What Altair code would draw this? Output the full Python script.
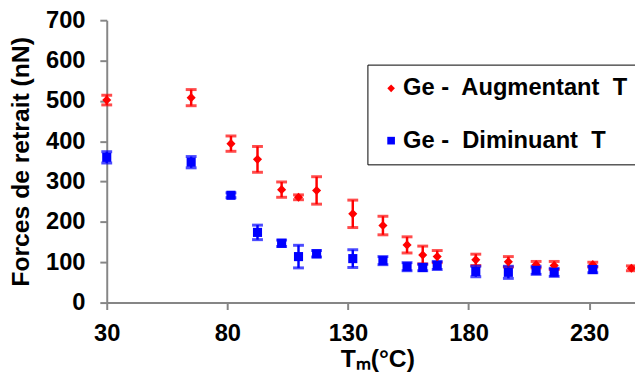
import altair as alt
import pandas as pd

series_names = ["Ge -\u00a0 Augmentant\u00a0 T", "Ge -\u00a0 Diminuant\u00a0 T"]
series_colors = ["#ff0000", "#0000ff"]
series_shapes = ["diamond", "square"]

x_aug = [30, 65, 81.5, 92.5, 102.5, 109.5, 117, 132, 144.5, 154.5, 161, 167, 183, 196.5, 208, 215.5, 231.5, 247.5]
y_aug = [502, 508, 394, 355, 280, 261, 278, 220, 191, 143, 118, 114, 106, 101, 94, 92, 94, 85]
e_aug = [12, 20, 19, 32, 19, 6, 34, 34, 23, 20, 22, 15, 14, 13, 8, 10, 6, 6]

x_dim = [30, 65, 81.5, 92.5, 102.5, 109.5, 117, 132, 144.5, 154.5, 161, 167, 183, 196.5, 208, 215.5, 231.5]
y_dim = [360, 348, 266, 174, 147, 114, 121, 109, 104, 89, 87, 92, 77, 75, 80, 75, 82]
e_dim = [14, 14, 6, 18, 8, 28, 8, 22, 10, 10, 8, 10, 13, 15, 10, 10, 8]

x_ticks = [30, 80, 130, 180, 230]
y_ticks = [0, 100, 200, 300, 400, 500, 600, 700]

rows = []
for xs_, ys_, es_, name in [(x_aug, y_aug, e_aug, series_names[0]), (x_dim, y_dim, e_dim, series_names[1])]:
    for x, y, e in zip(xs_, ys_, es_):
        rows.append({"T": x, "F": y, "lo": y - e, "hi": y + e, "serie": name})
df = pd.DataFrame(rows)

FONT = "Liberation Sans"
FS = 24

xs = alt.Scale(domain=[30, 249], nice=False, zero=False)
ys = alt.Scale(domain=[0, 700], nice=False)

legend = alt.Legend(title=None, orient="none", legendX=264, legendY=45,
                    strokeColor="black", fillColor="white", padding=12,
                    rowPadding=29, symbolSize=60, symbolStrokeWidth=0,
                    labelFont=FONT, labelFontSize=FS, labelFontWeight="bold",
                    labelColor="black", labelOffset=0, labelLimit=400)
color = alt.Color("serie:N", scale=alt.Scale(domain=series_names, range=series_colors), legend=legend)
shape = alt.Shape("serie:N", scale=alt.Scale(domain=series_names, range=series_shapes), legend=legend)

x_enc = alt.X("T:Q", scale=xs, title="Tₘ(°C)",
              axis=alt.Axis(values=x_ticks, grid=False, domainColor="#868686", domainWidth=2,
                            tickColor="#868686", tickWidth=2, tickSize=7, labelPadding=12,
                            labelFont=FONT, labelFontSize=FS, labelFontWeight="bold", labelColor="black",
                            titleFont=FONT, titleFontSize=FS + 1, titleFontWeight="bold", titleColor="black",
                            titlePadding=2, titleX=274, titleAlign="center", labelFlush=False))
y_enc = alt.Y("F:Q", scale=ys, title="Forces de retrait (nN)",
              axis=alt.Axis(values=y_ticks, grid=False, domainColor="#868686", domainWidth=2,
                            tickColor="#868686", tickWidth=2, tickSize=7, labelPadding=15,
                            labelFont=FONT, labelFontSize=FS, labelFontWeight="bold", labelColor="black",
                            titleFont=FONT, titleFontSize=FS + 1, titleFontWeight="bold", titleColor="black",
                            titlePadding=12))

base = alt.Chart(df)
bar_color = alt.condition(alt.datum.serie == series_names[0],
                          alt.value(series_colors[0]), alt.value(series_colors[1]))

rules = base.mark_rule(strokeWidth=2.5).encode(
    x=x_enc, y=alt.Y("lo:Q", scale=ys), y2="hi:Q", color=bar_color)
cap_lo = base.mark_tick(orient="horizontal", size=11, thickness=3).encode(
    x="T:Q", y=alt.Y("lo:Q", scale=ys), color=bar_color)
cap_hi = base.mark_tick(orient="horizontal", size=11, thickness=3).encode(
    x="T:Q", y=alt.Y("hi:Q", scale=ys), color=bar_color)
pts = base.mark_point(filled=True, size=85, opacity=1).encode(
    x="T:Q", y=y_enc, color=color, shape=shape)

chart = alt.layer(rules, cap_lo, cap_hi, pts).properties(
    width=535, height=286,
    autosize=alt.AutoSizeParams(type="none"),
    padding={"left": 100, "top": 10, "right": 0, "bottom": 72},
).configure_view(stroke=None)

chart.save("out.html", embed_options={"renderer": "svg", "actions": False})
